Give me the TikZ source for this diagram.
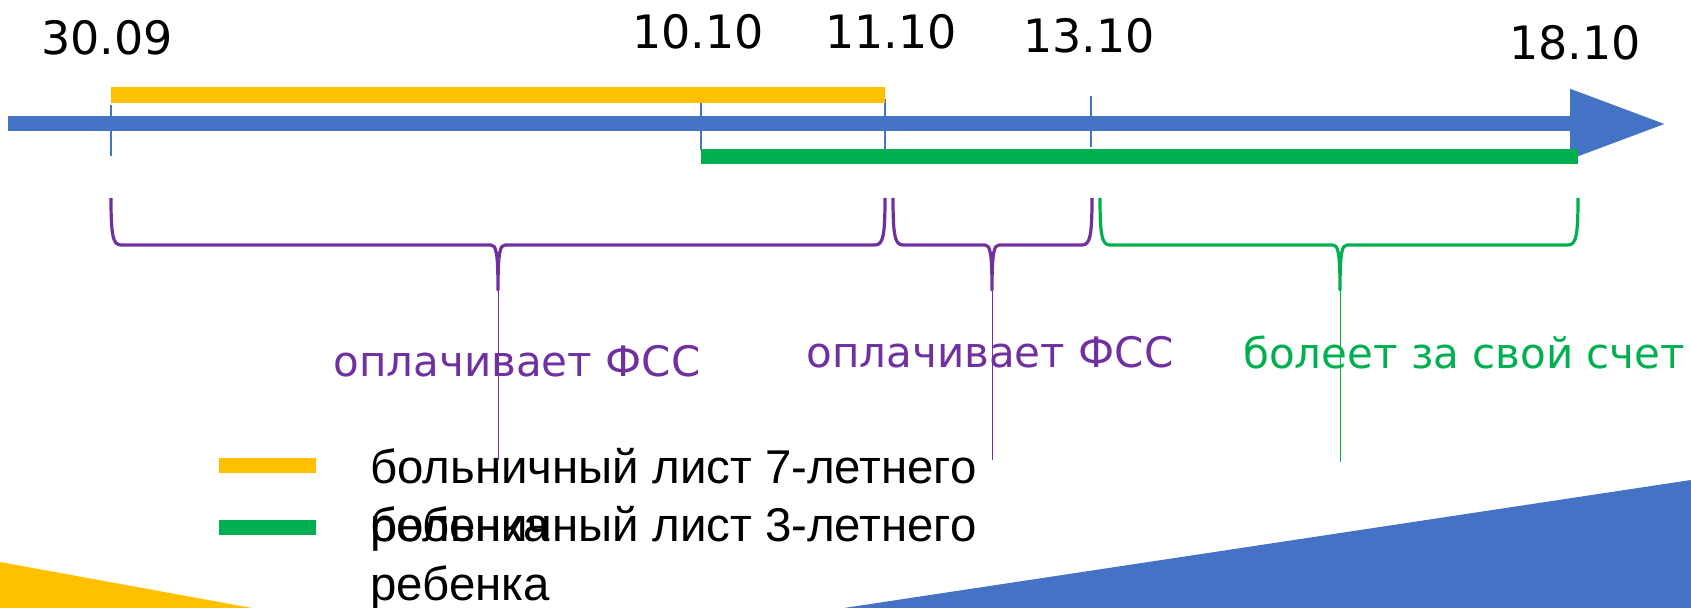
\documentclass[tikz,border=0pt]{standalone}
\usepackage{fontspec}
\setmainfont{DejaVu Sans}
\newfontfamily\legendfont{Liberation Sans}
\usepackage{xcolor}
\usepackage{tikz}
\usetikzlibrary{arrows.meta, positioning, calc}
\definecolor{axisblue}{HTML}{4472C4}
\definecolor{sickyellow}{HTML}{FFC000}
\definecolor{sickgreen}{HTML}{00B050}
\definecolor{fsspurple}{HTML}{7030A0}
\tikzset{
  axisline/.style={
    -{Triangle[length=48pt, width=33pt]}, line width=7.5pt, color=axisblue
  },
  tickmark/.style={
    line width=1.3pt, color=axisblue
  },
  sickbar/.style={
    line width=7.8pt
  },
  datelabel/.style={
    font=\fontsize{23}{27}\selectfont, inner sep=0pt
  },
  bracelabel/.style={
    font=\fontsize{21}{25}\selectfont, inner sep=0pt
  },
  bracepath/.style={
    line width=1.6pt, line join=round
  },
  bracestem/.style={
    line width=0.5pt
  },
  swatch/.style={
    minimum width=48.5pt, minimum height=7.8pt, inner sep=0pt
  },
  legendtext/.style={
    font=\legendfont\fontsize{23.7}{29}\selectfont, align=left,
    inner sep=0pt, anchor=base west
  },
}

\begin{document}
\begin{tikzpicture}[x=0.5pt, y=-0.5pt]
  \useasboundingbox (0,0) rectangle (1691,608);

  % ── Background corners ──
  \fill[sickyellow] (0,562) -- (252,608) -- (0,608) -- cycle;
  \fill[axisblue] (844,608) -- (1691,480) -- (1691,608) -- cycle;

  % ── Time axis ──
  \coordinate (axisstart) at (8,124);
  \coordinate (axisend)   at (1666,124);
  \draw[axisline] (axisstart) -- (axisend);

  \coordinate (p3009) at (111,124);
  \coordinate (p1010) at (701,124);
  \coordinate (p1110) at (885,124);
  \coordinate (p1310) at (1091,124);
  \coordinate (p1810) at (1578,124);

  \draw[tickmark] ($(p3009)+(0,-19)$) -- ($(p3009)+(0,32)$);
  \draw[tickmark] ($(p1010)+(0,-25)$) -- ($(p1010)+(0,26)$);
  \draw[tickmark] ($(p1110)+(0,-25)$) -- ($(p1110)+(0,26)$);
  \draw[tickmark] ($(p1310)+(0,-28)$) -- ($(p1310)+(0,23)$);

  % ── Dates ──
  \node[datelabel] (d3009) at (107,38) {30.09};
  \node[datelabel] (d1010) at (698,32) {10.10};
  \node[datelabel] (d1110) at (891,32) {11.10};
  \node[datelabel] (d1310) at (1089,36) {13.10};
  \node[datelabel] (d1810) at (1575,43) {18.10};

  % ── Sick-leave bars ──
  \draw[sickbar, sickyellow] ($(p3009)+(0,-29)$) -- ($(p1110)+(0,-29)$);
  \draw[sickbar, sickgreen]  ($(p1010)+(0,32.5)$) -- ($(p1810)+(0,32.5)$);

  % ── Braces ──
  \draw[bracepath, fsspurple] (111,198) .. controls (111,236) and (113,245) .. (121,245)
    -- (491,245) .. controls (496,245) and (498,252) .. (498,290)
    .. controls (498,252) and (500,245) .. (505,245)
    -- (875,245) .. controls (883,245) and (885,236) .. (885,198);
  \draw[bracepath, fsspurple] (893,198) .. controls (893,236) and (895,245) .. (903,245)
    -- (985,245) .. controls (990,245) and (992,252) .. (992,290)
    .. controls (992,252) and (994,245) .. (999,245)
    -- (1082,245) .. controls (1090,245) and (1092,236) .. (1092,198);
  \draw[bracepath, sickgreen] (1100,198) .. controls (1100,236) and (1102,245) .. (1110,245)
    -- (1333,245) .. controls (1338,245) and (1340,252) .. (1340,290)
    .. controls (1340,252) and (1342,245) .. (1347,245)
    -- (1568,245) .. controls (1576,245) and (1578,236) .. (1578,198);

  \node[bracelabel, text=fsspurple] (pay1) at (517,361) {оплачивает ФСС};
  \node[bracelabel, text=fsspurple] (pay2) at (990,352) {оплачивает ФСС};
  \node[bracelabel, text=sickgreen] (own)  at (1464,352) {болеет за свой счет};

  \coordinate (tip1) at (498,460);
  \coordinate (tip2) at (992,460);
  \coordinate (tip3) at (1340,462);
  \draw[bracestem, fsspurple] (498,290) -- (tip1);
  \draw[bracestem, fsspurple] (992,290) -- (tip2);
  \draw[bracestem, sickgreen] (1340,290) -- (tip3);

  % ── Legend ──
  \node[swatch, fill=sickyellow] (key7) at (267.5,465.5) {};
  \node[swatch, fill=sickgreen]  (key3) at (267.5,527.5) {};
  \node[legendtext] (text7) at (370,542) {больничный лист 7-летнего\\ребенка};
  \node[legendtext] (text3) at (370,600) {больничный лист 3-летнего\\ребенка};
\end{tikzpicture}
\end{document}
